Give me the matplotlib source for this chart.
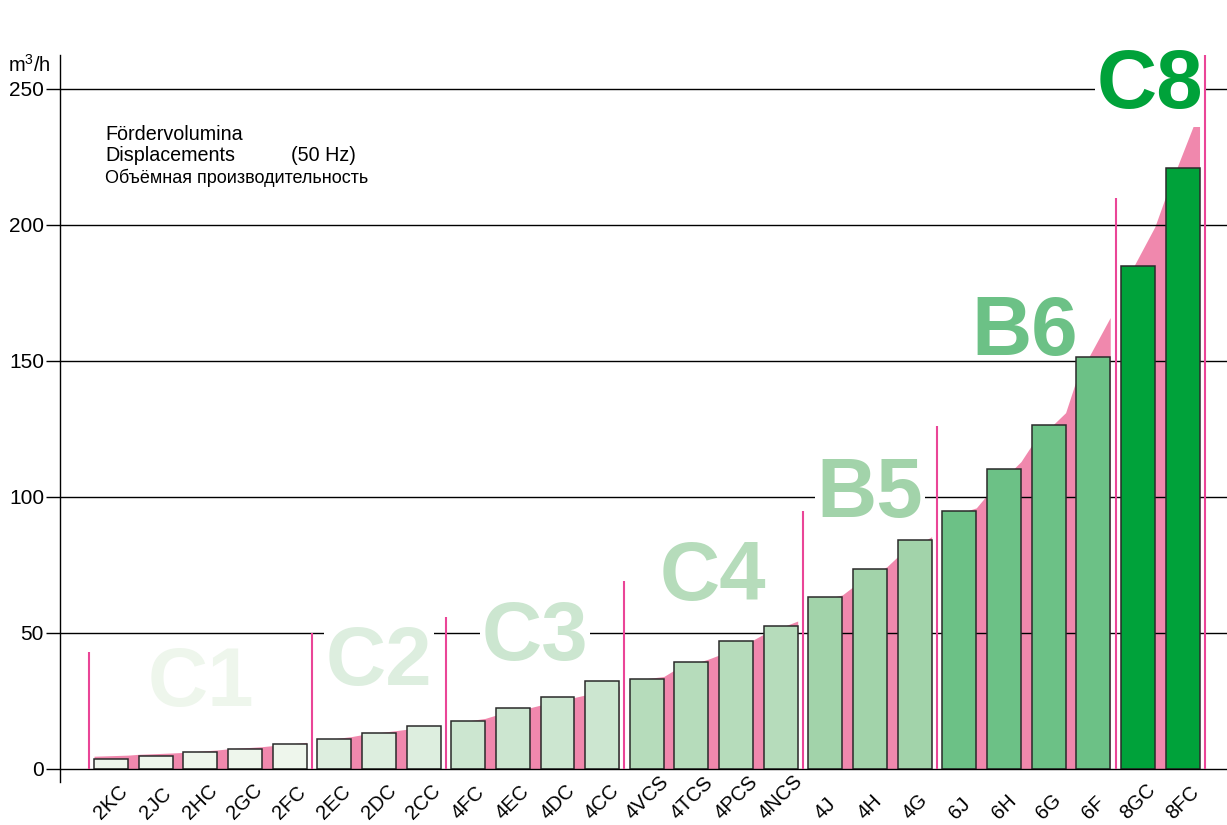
import numpy as np
import matplotlib
matplotlib.use('Agg')
import matplotlib.pyplot as plt

plt.rcParams['font.family'] = ['Liberation Sans', 'DejaVu Sans']
plt.rcParams['mathtext.fontset'] = 'custom'
plt.rcParams['mathtext.rm'] = 'Liberation Sans'

models = ['2KC', '2JC', '2HC', '2GC', '2FC', '2EC', '2DC', '2CC',
          '4FC', '4EC', '4DC', '4CC', '4VCS', '4TCS', '4PCS', '4NCS',
          '4J', '4H', '4G', '6J', '6H', '6G', '6F', '8GC', '8FC']
displacement = [3.8, 4.8, 6.3, 7.3, 9.3, 11.0, 13.2, 15.9,
                17.8, 22.5, 26.6, 32.2, 33.0, 39.2, 46.9, 52.7,
                63.2, 73.5, 84.2, 94.9, 110.3, 126.5, 151.5, 184.9, 220.9]

# pink envelope height at the left / right edge of every bar
env_left = [4.7, 5.4, 6.1, 7.4, 8.6, 10.4, 12.6, 14.6,
            16.8, 19.8, 23.5, 27.2, 32.5, 36.4, 41.9, 49.6,
            61.0, 67.0, 78.1, 92.0, 100.7, 119.0, 143.0, 176.0, 210.4]
env_right = [5.1, 5.9, 7.0, 8.2, 9.8, 11.9, 14.1, 15.8,
             18.6, 22.5, 26.3, 30.5, 34.0, 40.4, 47.4, 54.4,
             64.0, 74.4, 85.4, 96.0, 113.0, 131.0, 166.0, 199.4, 242.3]

groups = ['C1', 'C2', 'C3', 'C4', 'B5', 'B6', 'C8']
group_sizes = [5, 3, 4, 4, 3, 4, 2]
group_colors = ['#eef6ec', '#ddeedf', '#cce6d0', '#b6dcbb', '#a2d3aa', '#6cc186', '#00a23a']
# top of the magenta separator lines (left of first group, then after each group)
sep_heights = [43, 50, 56, 69, 95, 126, 210, 279]
grid_vals = [50, 100, 150, 200, 250]

label_pos = [(2.02, 23.2), (6.0, 30.9), (9.5, 40.1), (13.48, 62.1),
             (17.0, 92.8), (20.47, 152.2), (23.27, 242.9)]

W, H = 1227, 825
fig = plt.figure(figsize=(W / 100, H / 100), dpi=100)
ax = fig.add_axes([60 / W, (H - 782) / H, (W - 60) / W, (782 - 55) / H])

bar_w = 0.76
x = np.arange(len(models))
colors = []
for g, n in enumerate(group_sizes):
    colors += [group_colors[g]] * n

# pink envelope, one patch per group
start = 0
for g, n in enumerate(group_sizes):
    xs, ys = [], []
    for i in range(start, start + n):
        xs += [x[i] - bar_w / 2, x[i] + bar_w / 2]
        ys += [env_left[i], env_right[i]]
    ax.fill_between(xs, 0, ys, color='#f088ad', lw=0, zorder=1)
    start += n

for yv in grid_vals:
    ax.axhline(yv, color='black', lw=1.0, zorder=2)

ax.bar(x, displacement, width=bar_w, color=colors, edgecolor='#2a2a2a',
       linewidth=1.1, zorder=4)
ax.axhline(0, color='black', lw=1.0, zorder=5)

bounds = np.cumsum([0] + group_sizes) - 0.5
ax.vlines(bounds, 0, sep_heights, colors='#ea4597', lw=1.5, zorder=6)

cap = 22  # cap height of the big labels in data units
for g, (gx, gy) in enumerate(label_pos):
    crosses = any(gy < v < gy + cap for v in grid_vals)
    bbox = dict(facecolor='white', edgecolor='none', pad=1) if crosses else None
    ax.text(gx, gy, groups[g], fontsize=60, fontweight='bold', color=group_colors[g],
            ha='center', va='baseline', zorder=3, bbox=bbox)

for i, m in enumerate(models):
    ax.text(x[i], -0.0564, m, transform=ax.get_xaxis_transform(), rotation=45,
            ha='center', va='bottom', fontsize=14.5)

ax.set_xlim(-1.142, 24.995)
ax.set_ylim(-4.78, 262.5)
ax.set_xticks([])
ax.set_yticks([0, 50, 100, 150, 200, 250])
ax.tick_params(axis='y', length=10, width=1, pad=1.5, labelsize=15, direction='out')
for s in ['top', 'right', 'bottom']:
    ax.spines[s].set_visible(False)
ax.spines['left'].set_linewidth(1.0)
ax.set_facecolor('none')

fig.text(8 / W, 1 - 71.7 / H, r'$\mathrm{m^3/h}$', fontsize=14.5, va='baseline')
fig.text(105 / W, 1 - 140.5 / H, 'Fördervolumina', fontsize=14.2, va='baseline')
fig.text(105 / W, 1 - 161 / H, 'Displacements', fontsize=14.2, va='baseline')
fig.text(291 / W, 1 - 161 / H, '(50 Hz)', fontsize=14.2, va='baseline')
fig.text(105 / W, 1 - 183 / H, 'Объёмная производительность', fontsize=13, va='baseline')

fig.savefig('out.png', dpi=100)
